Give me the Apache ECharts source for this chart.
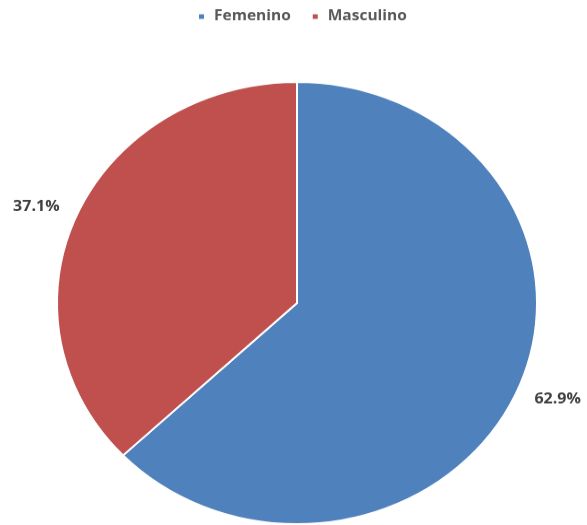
<!DOCTYPE html>
<html>
<head>
<meta charset="utf-8">
<script src="https://cdn.jsdelivr.net/npm/echarts@6/dist/echarts.min.js"></script>
<style>
html,body{margin:0;padding:0;background:#fff;overflow:hidden;}
#wrap{width:587px;height:525px;overflow:hidden;}
#chart{width:587px;height:570px;transform:scaleY(0.921);transform-origin:0 0;}
</style>
</head>
<body>
<div id="wrap"><div id="chart"></div></div>
<script>
const categories = ['Femenino', 'Masculino'];
const values = [62.9, 37.1];
const colors = ['#4F81BD', '#C0504D'];

const chart = echarts.init(document.getElementById('chart'), null, {renderer: 'canvas'});
chart.setOption({
  animation: false,
  backgroundColor: '#ffffff',
  legend: {
    top: 5,
    left: 192,
    icon: 'rect',
    itemWidth: 7,
    itemHeight: 7,
    itemGap: 20,
    data: categories,
    textStyle: {
      fontFamily: 'Open Sans',
      fontWeight: 'bold',
      fontSize: 15.5,
      color: '#595959',
      padding: [0, 0, 0, 4]
    }
  },
  series: [{
    type: 'pie',
    center: [297, 329],
    radius: 240,
    startAngle: 90,
    clockwise: true,
    avoidLabelOverlap: false,
    data: categories.map((c, i) => ({name: c, value: values[i], itemStyle: {color: colors[i]}})),
    itemStyle: {borderColor: '#ffffff', borderWidth: 2},
    label: {
      show: true,
      position: 'outside',
      overflow: 'none',
      edgeDistance: 0,
      bleedMargin: 0,
      formatter: p => p.value.toFixed(1) + '%',
      fontFamily: 'Open Sans',
      fontWeight: 'bold',
      fontSize: 16,
      color: '#404040'
    },
    labelLine: {show: false, length: 26, length2: 0},
    labelLayout: function (params) {
      return {dx: params.dataIndex === 0 ? -12 : 12};
    },
    emphasis: {disabled: true}
  }]
});
</script>
</body>
</html>
